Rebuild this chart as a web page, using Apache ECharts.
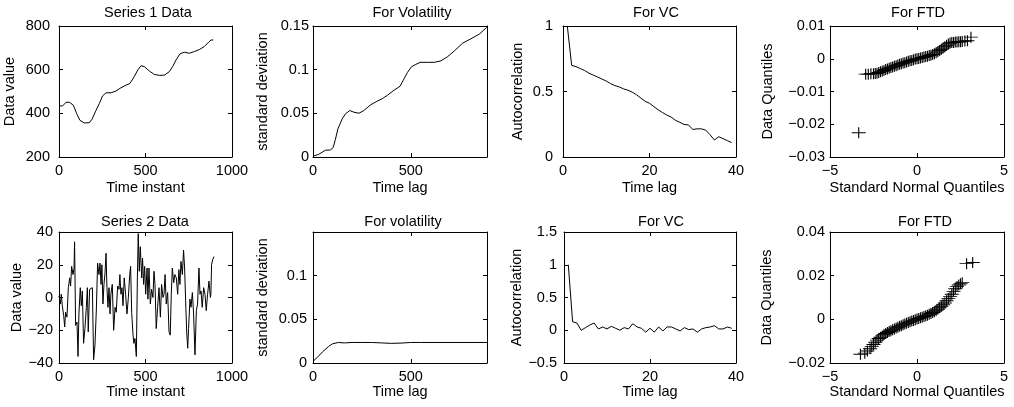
<!DOCTYPE html>
<html><head><meta charset="utf-8">
<script src="https://cdn.jsdelivr.net/npm/echarts@6/dist/echarts.min.js"></script>
<style>html,body{margin:0;padding:0;background:#fff}#c{width:1014px;height:407px}</style>
</head><body><div id="c"></div>
<script>
// ---------- data ----------
const s1x = [0,21,40,60,83,102,121,146,175,191,210,233,252,272,301,329,358,387,410,435,455,474,493,522,551,580,609,638,657,676,699,724,753,782,811,840,865,879,892];
const s1y = [434,434,450,451,437,399,368,356,357,373,407,445,480,494,494,502,517,529,537,568,598,618,614,594,578,574,575,591,614,644,672,680,675,683,692,706,726,736,736];

const vol1x = [0,29,63,89,103,115,127,149,166,188,209,235,260,295,329,354,380,414,445,462,483,504,526,548,586,620,654,689,723,766,808,851,889];
const vol1y = [0.001,0.003,0.0077,0.0081,0.0108,0.0204,0.032,0.0436,0.0494,0.0532,0.0513,0.0501,0.0532,0.0598,0.064,0.0667,0.0706,0.0764,0.081,0.088,0.0968,0.1034,0.106,0.1084,0.1084,0.1084,0.11,0.115,0.1215,0.1304,0.1354,0.1408,0.1485];

const acfLags = [1,2,3,4,5,6,7,8,9,10,11,12,13,14,15,16,17,18,19,20,21,22,23,24,25,26,27,28,29,30,31,32,33,34,35,36,37,38,39];
const acf1 = [1.0,0.70,0.69,0.675,0.66,0.64,0.625,0.61,0.595,0.58,0.56,0.545,0.535,0.52,0.51,0.495,0.475,0.45,0.425,0.41,0.385,0.36,0.34,0.32,0.305,0.28,0.265,0.248,0.245,0.21,0.215,0.215,0.205,0.17,0.13,0.155,0.14,0.125,0.11];

const qq1x = [-3.35,-2.95,-2.8,-2.65,-2.5,-2.4,-2.3,-2.2,-2.1,-2.0,-1.9,-1.8,-1.7,-1.6,-1.5,-1.4,-1.3,-1.2,-1.1,-1.0,-0.9,-0.8,-0.7,-0.6,-0.5,-0.4,-0.3,-0.2,-0.1,0,0.1,0.2,0.3,0.4,0.5,0.6,0.7,0.8,0.9,1.0,1.1,1.2,1.3,1.4,1.5,1.6,1.7,1.8,1.9,2.0,2.1,2.2,2.3,2.4,2.5,2.6,2.75,2.9,3.1];
const qq1y = [-0.0226,-0.0047,-0.0047,-0.0046,-0.0046,-0.0045,-0.0044,-0.0042,-0.004,-0.0038,-0.0036,-0.0033,-0.0031,-0.0029,-0.0027,-0.0025,-0.0023,-0.0021,-0.0019,-0.0017,-0.0015,-0.0013,-0.0012,-0.001,-0.0008,-0.0006,-0.0005,-0.0003,-0.0001,0,0.0001,0.0002,0.0004,0.0005,0.0007,0.0008,0.001,0.0011,0.0013,0.0015,0.0018,0.0021,0.0025,0.0029,0.0033,0.0037,0.0041,0.0045,0.0048,0.005,0.005,0.0051,0.0051,0.0052,0.0052,0.0053,0.0054,0.0055,0.0066];

const s2x = [0,8,13,19,27,33,38,46,54,62,67,73,81,87,90,96,104,110,115,123,129,135,142,150,158,164,169,177,187,193,200,208,216,223,231,237,243,248,254,260,266,272,277,283,289,295,300,308,316,324,331,339,347,352,358,364,370,377,385,393,401,408,414,420,428,433,439,447,453,458,464,470,478,483,489,495,501,509,514,520,528,535,543,549,555,562,570,578,586,593,601,607,613,620,628,636,643,649,655,663,670,678,686,693,699,705,713,720,726,732,738,744,749,757,763,771,778,786,794,801,809,815,821,828,836,844,851,859,867,875,878,882,888,896];
const s2y = [1,-4,2,-5,-11,-18,-9,-12,6,12,7,19,14,18,34,-17,-15,-36,-10,6,-5,4,-28,-19,-6,6,-21,5,4,6,-38,-29,-7,21,14,21,8,20,-4,8,15,27,6,-6,6,-10,2,8,-20,-6,-9,7,5,14,2,6,-5,12,2,-10,0,13,19,-9,-23,-28,-25,-36,12,39,16,31,12,24,8,19,2,18,-1,18,-4,5,0,16,8,-19,-6,6,-12,8,0,2,14,-4,3,-21,-23,2,18,9,14,12,2,17,8,22,14,29,18,-2,-21,-31,-19,-1,-6,3,-10,-35,-8,-4,18,2,4,-6,6,2,-8,2,10,0,2,20,23,25];

const vol2x = [0,20,50,80,100,130,160,200,250,300,350,400,450,500,550,890];
const vol2y = [0.002,0.006,0.013,0.019,0.022,0.0235,0.023,0.0235,0.0235,0.0235,0.023,0.0225,0.0228,0.0235,0.0235,0.0235];

const acf2 = [1.0,0.13,0.11,0.0,0.04,0.08,0.11,0.02,0.05,0.02,0.06,0.03,0.0,0.04,0.02,0.1,0.05,0.03,-0.03,0.03,-0.03,0.05,-0.01,0.05,0.05,0.02,-0.01,0.04,0.01,0.02,-0.03,0.02,0.04,0.05,0.07,0.02,0.02,0.05,0.03];

const qq2x = [-3.25,-3.0,-2.85,-2.7,-2.6,-2.5,-2.4,-2.3,-2.2,-2.1,-2.0,-1.9,-1.8,-1.7,-1.6,-1.5,-1.4,-1.3,-1.2,-1.1,-1.0,-0.9,-0.8,-0.7,-0.6,-0.5,-0.4,-0.3,-0.2,-0.1,0,0.1,0.2,0.3,0.4,0.5,0.6,0.7,0.8,0.9,1.0,1.1,1.2,1.3,1.4,1.5,1.6,1.7,1.8,1.9,2.0,2.1,2.2,2.3,2.4,2.5,2.6,2.85,3.2];
const qq2y = [-0.016,-0.0155,-0.0145,-0.0135,-0.0125,-0.0115,-0.0105,-0.0095,-0.0088,-0.0082,-0.0076,-0.007,-0.0065,-0.006,-0.0056,-0.0052,-0.0048,-0.0044,-0.004,-0.0036,-0.0032,-0.0029,-0.0025,-0.0021,-0.0018,-0.0014,-0.0011,-0.0008,-0.0005,-0.0002,0.0001,0.0004,0.0007,0.001,0.0013,0.0016,0.0019,0.0023,0.0027,0.0031,0.0035,0.004,0.0046,0.0053,0.006,0.0067,0.0075,0.0085,0.0095,0.0105,0.0115,0.0128,0.014,0.015,0.0157,0.0163,0.0168,0.0255,0.026];

// tick labels / axis ranges
const xTicksSeries = [0,500,1000];
const xTicksVol = [0,500];
const xMaxVol = 890;
const xTicksAcf = [0,20,40];
const xTicksQQ = [-5,0,5];
const yTicksS1 = [200,400,600,800];
const yTicksVol1 = [0,0.05,0.1,0.15];
const yTicksAcf1 = [0,0.5,1];
const yTicksQQ1 = [-0.03,-0.02,-0.01,0,0.01];
const yTicksS2 = [-40,-20,0,20,40];
const yTicksVol2 = [0,0.05,0.1];
const yMaxVol2 = 0.15;
const yTicksAcf2 = [-0.5,0,0.5,1,1.5];
const yTicksQQ2 = [-0.02,0,0.02,0.04];

const titles = ['Series 1 Data','For Volatility','For VC','For FTD','Series 2 Data','For volatility','For VC','For FTD'];
const xNames = ['Time instant','Time lag','Time lag','Standard Normal Quantiles','Time instant','Time lag','Time lag','Standard Normal Quantiles'];
const yNames = ['Data value','standard deviation','Autocorrelation','Data Quantiles','Data value','standard deviation','Autocorrelation','Data Quantiles'];

// ---------- layout ----------
const FONT = '"Liberation Sans", Arial, Helvetica, sans-serif';
const FS = 14.5;
const COL = '#000';
const panels = [
  {g:[59,26,173,131],  xt:xTicksSeries, yt:yTicksS1,   tcx:143, tt:0, ylm:9,  yng:42, xng:23, kind:'line', x:s1x, y:s1y},
  {g:[313,26,174,131], xt:xTicksVol, xmax:xMaxVol, yt:yTicksVol1, tcx:407, tt:0, ylm:4, yng:43, xng:23, kind:'line', x:vol1x, y:vol1y},
  {g:[563,26,173,131], xt:xTicksAcf, yt:yTicksAcf1, tcx:651, tt:0, ylm:10, yng:38, xng:23, kind:'line', x:acfLags, y:acf1},
  {g:[830,26,174,131], xt:xTicksQQ, yt:yTicksQQ1, tcx:913, tt:0, ylm:5, yng:55, xng:23, kind:'qq', x:qq1x, y:qq1y},
  {g:[59,232,173,131], xt:xTicksSeries, yt:yTicksS2, tcx:140, tt:209, ylm:6, yng:35, xng:20, kind:'line', x:s2x, y:s2y},
  {g:[313,232,174,131], xt:xTicksVol, xmax:xMaxVol, yt:yTicksVol2, ymax:yMaxVol2, tcx:398, tt:209, ylm:6, yng:43, xng:20, kind:'line', x:vol2x, y:vol2y},
  {g:[564,232,172,131], xt:xTicksAcf, yt:yTicksAcf2, tcx:656, tt:209, ylm:7, yng:40, xng:20, kind:'line', x:acfLags, y:acf2},
  {g:[830,232,174,131], xt:xTicksQQ, yt:yTicksQQ2, tcx:920, tt:209, ylm:5, yng:56, xng:20, kind:'qq', x:qq2x, y:qq2y}
];

function fmt(v){ const s = String(parseFloat(Number(v).toFixed(6))); return s.replace('-', '\u2212'); }
function pairs(xs, ys){ return xs.map((x,i)=>[x, ys[i]]); }

const grid = [], xAxis = [], yAxis = [], title = [], series = [];
const txt = {fontFamily: FONT, fontSize: FS, color: COL};
panels.forEach((p, i) => {
  grid.push({left:p.g[0], top:p.g[1], width:p.g[2], height:p.g[3], containLabel:false});
  const xmin = p.xt[0], xmax = p.xmax !== undefined ? p.xmax : p.xt[p.xt.length-1];
  const xint = p.xt[1]-p.xt[0];
  const ymin = p.yt[0], ymax = p.ymax !== undefined ? p.ymax : p.yt[p.yt.length-1];
  const yint = +(p.yt[1]-p.yt[0]).toFixed(6);
  const base = {type:'value', gridIndex:i, splitLine:{show:false},
    axisLine:{show:true, onZero:false, lineStyle:{color:COL, width:1}},
    axisTick:{show:true, inside:true, length:4, lineStyle:{color:COL, width:1}}};
  xAxis.push(Object.assign({}, base, {position:'bottom', min:xmin, max:xmax, interval:xint,
    axisLabel:Object.assign({show:true, margin:6, formatter:fmt, showMaxLabel:p.xmax===undefined}, txt),
    name:xNames[i], nameLocation:'middle', nameGap:p.xng, nameTextStyle:txt}));
  yAxis.push(Object.assign({}, base, {position:'left', min:ymin, max:ymax, interval:yint,
    axisLabel:Object.assign({show:true, margin:p.ylm, formatter:fmt, showMaxLabel:p.ymax===undefined}, txt),
    name:yNames[i], nameLocation:'middle', nameGap:p.yng, nameRotate:90, nameTextStyle:txt}));
  title.push({text:titles[i], left:p.tcx, top:p.tt, textAlign:'center',
    textStyle:{fontFamily:FONT, fontSize:FS, fontWeight:'normal', color:COL}});
});
// mirrored top / right axes (ticks only)
panels.forEach((p, i) => {
  const xmin = p.xt[0], xmax = p.xmax !== undefined ? p.xmax : p.xt[p.xt.length-1];
  const ymin = p.yt[0], ymax = p.ymax !== undefined ? p.ymax : p.yt[p.yt.length-1];
  const m = {type:'value', gridIndex:i, splitLine:{show:false}, axisLabel:{show:false},
    axisLine:{show:true, onZero:false, lineStyle:{color:COL, width:1}},
    axisTick:{show:true, inside:true, length:4, lineStyle:{color:COL, width:1}}};
  xAxis.push(Object.assign({}, m, {position:'top', min:xmin, max:xmax, interval:p.xt[1]-p.xt[0]}));
  yAxis.push(Object.assign({}, m, {position:'right', min:ymin, max:ymax, interval:+(p.yt[1]-p.yt[0]).toFixed(6)}));
});
panels.forEach((p, i) => {
  if (p.kind === 'line') {
    series.push({type:'line', xAxisIndex:i, yAxisIndex:i, data:pairs(p.x, p.y), showSymbol:false, symbol:'none',
      lineStyle:{color:COL, width:1}, silent:true, clip:true});
  } else {
    series.push({type:'scatter', xAxisIndex:i, yAxisIndex:i, data:pairs(p.x, p.y),
      symbol:'path://M0,5L10,5M5,0L5,10', symbolSize:[14,11], symbolKeepAspect:false,
      itemStyle:{color:'rgba(0,0,0,0)', borderColor:COL, borderWidth:1, opacity:1}, silent:true});
  }
});

const chart = echarts.init(document.getElementById('c'), null, {renderer:'canvas'});
chart.setOption({backgroundColor:'#fff', animation:false, grid, xAxis, yAxis, title, series});
</script></body></html>
